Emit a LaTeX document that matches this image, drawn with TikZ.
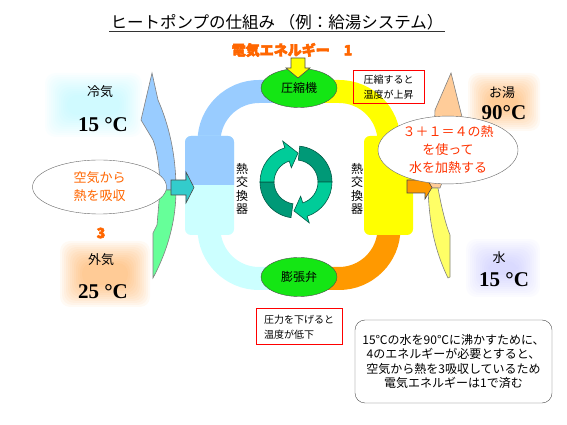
\documentclass[tikz,border=0pt]{standalone}
\usepackage{fontspec}
\setmainfont{Noto Sans CJK JP}
\newfontfamily\heavyfont{Noto Sans CJK JP}[FakeBold=4]
\newfontfamily\tempfont{Liberation Serif}
\usetikzlibrary{shapes.geometric}

\definecolor{loopblue}{RGB}{153,204,255}
\definecolor{loopcyan}{RGB}{204,255,255}
\definecolor{loopyellow}{RGB}{255,255,0}
\definecolor{looporange}{RGB}{255,153,0}
\definecolor{partgreen}{RGB}{20,230,20}
\definecolor{textorange}{RGB}{255,102,0}
\definecolor{textred}{RGB}{255,51,0}
\definecolor{cyclelight}{RGB}{0,204,153}
\definecolor{cycledark}{RGB}{0,153,119}
\definecolor{cycleline}{RGB}{0,90,70}
\definecolor{airgreen}{RGB}{102,255,153}
\definecolor{waterpeach}{RGB}{255,204,153}
\definecolor{wateryellow}{RGB}{255,255,102}
\definecolor{arrowteal}{RGB}{51,204,204}
\definecolor{glowcyan}{RGB}{120,240,255}
\definecolor{glowblue}{RGB}{150,150,255}

% soft glow behind a label: colour, opacity, x1, y1, x2, y2
\newcommand{\glowbox}[6]{%
  \foreach \k in {0,...,11}
    \fill[#1, opacity=#2, rounded corners=10] (#3+\k*2,#4+\k*2) rectangle (#5-\k*2,#6-\k*2);
}

\tikzset{
  part/.style={ellipse, draw=black!70, fill=partgreen, minimum width=76pt, minimum height=39pt, inner sep=0pt, font=\fontsize{12}{12}\selectfont},
  note/.style={draw=red, line width=1pt, align=left, inner sep=4pt, font=\fontsize{10}{15}\selectfont},
  bubble/.style={ellipse, draw=black!60, fill=white, align=center, inner sep=0pt, font=\fontsize{13}{18}\selectfont},
  label/.style={font=\fontsize{13}{13}\selectfont},
  temp/.style={font=\tempfont\bfseries\fontsize{21}{21}\selectfont},
  band/.style={line width=23pt},
  vtext/.style={align=center, inner sep=0pt, font=\fontsize{12}{13.5}\selectfont},
  blockarrow/.style={draw=black!70, line width=0.6pt}
}

\begin{document}
\begin{tikzpicture}[x=1pt, y=1pt]
  \useasboundingbox (0,0) rectangle (567,425);

  % title
  \node[inner sep=1pt, font=\fontsize{16.5}{16.5}\selectfont] (title) at (277,403) {ヒートポンプの仕組み （例：給湯システム）};
  \draw[line width=1pt, black!80] (title.south west) -- (title.south east);
  \node[text=textorange, font=\heavyfont\bfseries\fontsize{14}{14}\selectfont] (power) at (292,375) {電気エネルギー　1};

  % glows behind temperatures
  \glowbox{glowcyan}{0.035}{45}{288}{142}{352}
  \glowbox{orange}{0.045}{60}{118}{150}{184}
  \glowbox{orange}{0.045}{468}{294}{540}{352}
  \glowbox{glowblue}{0.035}{466}{128}{540}{186}

  % refrigerant loop
  \draw[band, loopblue] (299,333.5) -- (259,333.5) arc (90:180:50) -- (209,240);
  \draw[band, loopcyan] (209,240) -- (209,196.5) arc (180:270:50) -- (299,146.5);
  \draw[band, looporange] (389,200) -- (389,196.5) arc (0:-90:50) -- (299,146.5);
  \draw[band, loopyellow] (299,333.5) -- (339,333.5) arc (90:0:50) -- (389,200);

  % heat exchangers
  \fill[loopcyan, rounded corners=6] (185,190) rectangle (234,289);
  \begin{scope}
    \clip (180,240) rectangle (240,295);
    \fill[loopblue, rounded corners=6] (185,190) rectangle (234,289);
  \end{scope}
  \fill[loopyellow, rounded corners=6] (364,190) rectangle (413,289);
  \node[vtext] (hexleft) at (242,236) {熱\\交\\換\\器};
  \node[vtext] (hexright) at (357,236) {熱\\交\\換\\器};

  % compressor and valve
  \node[part] (comp) at (299,337) {圧縮機};
  \node[part] (valve) at (299,148) {膨張弁};
  \draw[blockarrow, fill=loopyellow] (291,367) -- (305,367) -- (305,357) -- (310,357) -- (298,347) -- (286,357) -- (291,357) -- cycle;

  % cycle arrows
  \begin{scope}[shift={(296,243)}, draw=cycleline, line width=0.6pt]
    \filldraw[fill=cycledark] (180:36) arc (180:262:36) -- (262:22) arc (262:180:22) -- cycle;
    \filldraw[fill=cycledark] (84:36) arc (84:0:36) -- (0:22) arc (0:84:22) -- cycle;
    \filldraw[fill=cyclelight] (180:36) arc (180:108:36) -- (108:43) -- (86:29) -- (108:15) -- (108:22) arc (108:180:22) -- cycle;
    \filldraw[fill=cyclelight] (0:36) arc (0:-72:36) -- (-72:43) -- (-94:29) -- (-72:15) -- (-72:22) arc (-72:0:22) -- cycle;
  \end{scope}

  % outdoor air arrow
  \draw[blockarrow, draw=black!50, fill=loopblue] (152,352) -- (158,325) .. controls (169,300) and (176,270) .. (176,235) -- (160,235) .. controls (160,255) and (157,275) .. (153,285) -- (141,305) -- cycle;
  \draw[blockarrow, draw=black!50, fill=airgreen] (176,235) .. controls (176,205) and (168,175) .. (153,147) -- (153,192) -- (157,200) -- (160,235) -- cycle;
  \draw[blockarrow, fill=arrowteal] (171,245) -- (186,245) -- (186,253) -- (194,237.5) -- (186,222) -- (186,230) -- (171,230) -- cycle;

  % hot water arrow
  \draw[blockarrow, draw=black!50, fill=waterpeach] (451,352) -- (462,308) -- (445,250) -- (440,237) -- (428,237) -- (434,290) -- (435,315) -- cycle;
  \draw[blockarrow, draw=black!50, fill=wateryellow] (428,237) -- (438,237) .. controls (442,215) and (446,200) .. (450,190) -- (450,148) -- (448,147) .. controls (432,180) and (429,210) .. (428,237) -- cycle;
  \draw[blockarrow, fill=looporange] (407,245) -- (425,245) -- (425,249) -- (432,237.5) -- (425,226) -- (425,232) -- (407,232) -- cycle;

  % bubbles
  \node[bubble, text=textorange, minimum width=134pt, minimum height=54pt] (absorb) at (99.5,238) {空気から\\熱を吸収};
  \node[bubble, text=textred, minimum width=140pt, minimum height=60pt] (heat) at (448,275) {３＋１＝４の熱\\を使って\\水を加熱する};
  \node[text=textorange, font=\heavyfont\bfseries\fontsize{14}{14}\selectfont] (three) at (101,192) {3};

  % temperatures
  \node[label] (coldair) at (100,333) {冷気};
  \node[temp] (coldtemp) at (103,300) {15 °C};
  \node[label] (outair) at (101,165) {外気};
  \node[temp] (outtemp) at (103,133) {25 °C};
  \node[label] (hotwater) at (502,332) {お湯};
  \node[temp] (hottemp) at (504,312) {90°C};
  \node[label] (water) at (499,167) {水};
  \node[temp] (watertemp) at (504,145) {15 °C};

  % notes
  \node[note, minimum width=71pt, minimum height=30pt] (noteup) at (388.5,338) {圧縮すると\\温度が上昇};
  \node[note, minimum width=86pt, minimum height=36pt] (notedown) at (299,98) {圧力を下げると\\温度が低下};
  \node[draw=black!70, rounded corners=10pt, align=center, minimum width=197pt, minimum height=83pt, font=\fontsize{12}{14.5}\selectfont] (summary) at (453.5,63.5) {15℃の水を90℃に沸かすために、\\4のエネルギーが必要とすると、\\空気から熱を3吸収しているため\\電気エネルギーは1で済む};
\end{tikzpicture}
\end{document}
